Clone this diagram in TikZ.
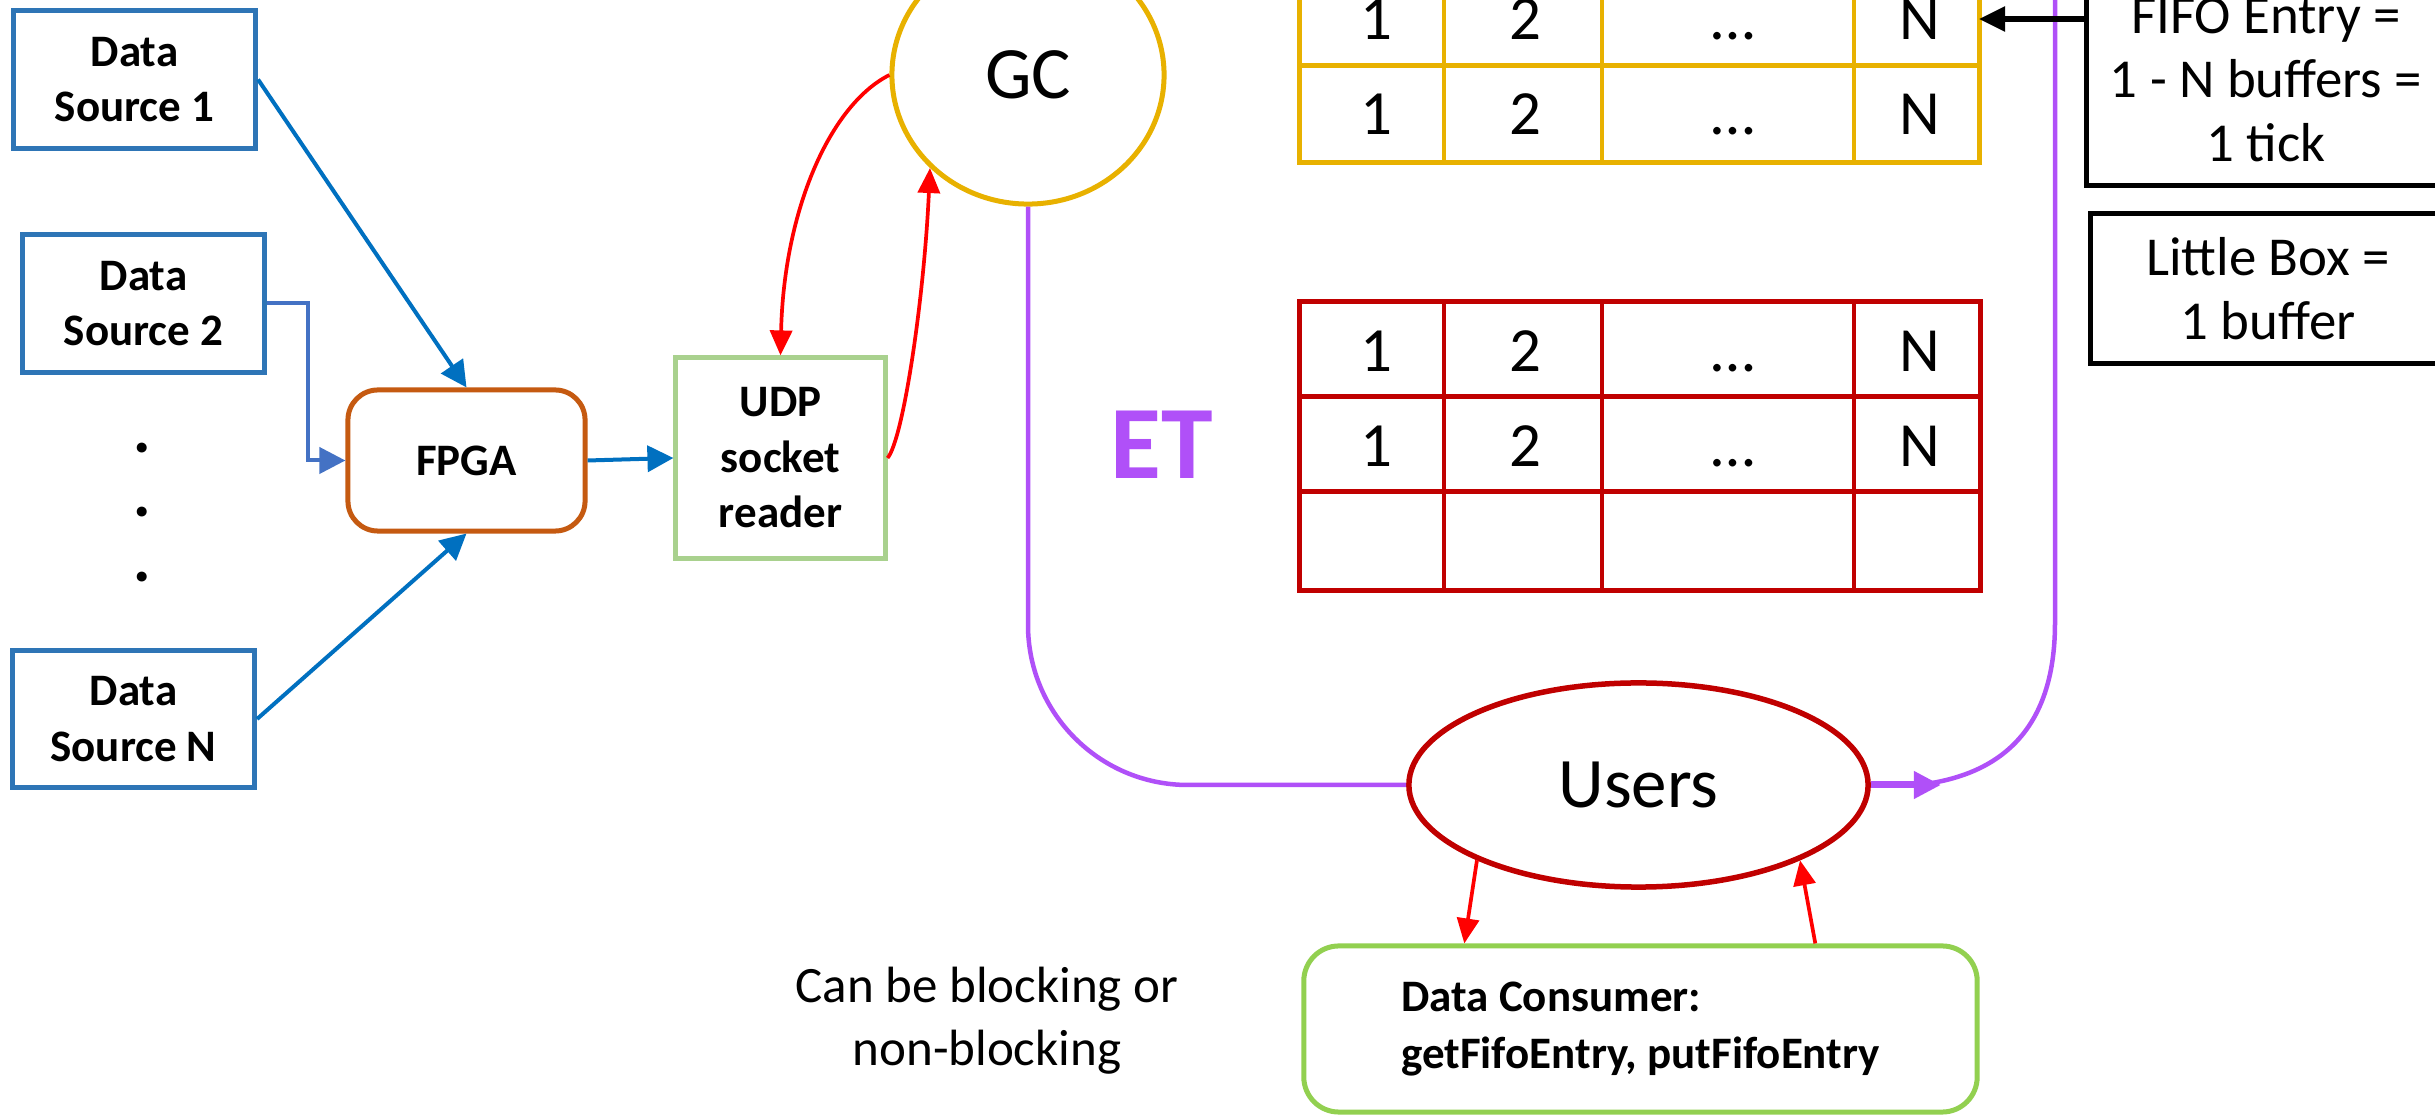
\documentclass[tikz,border=0pt]{standalone}
\usepackage{fontspec}
\setmainfont{Carlito}
\usetikzlibrary{shapes.geometric,arrows.meta,calc}
\definecolor{dsblue}{RGB}{46,117,182}
\definecolor{arrblue}{RGB}{0,112,192}
\definecolor{dsbluetwo}{RGB}{68,114,196}
\definecolor{fpgaorange}{RGB}{197,90,17}
\definecolor{udpgreen}{RGB}{169,209,142}
\definecolor{gcgold}{RGB}{232,177,0}
\definecolor{tabred}{RGB}{192,0,0}
\definecolor{arrred}{RGB}{255,0,0}
\definecolor{etpurple}{RGB}{176,80,248}
\definecolor{dcgreen}{RGB}{146,208,80}
\begin{document}
\begin{tikzpicture}[x=0.01cm,y=-0.01cm,
  lbl/.style={font=\fontsize{12.8pt}{15.8pt}\selectfont\bfseries, align=center, inner sep=0pt},
  srcbox/.style={lbl, draw=dsblue, line width=0.05cm, minimum width=2.42cm, minimum height=1.37cm},
  bluearr/.style={draw=arrblue, line width=0.04cm, -{Triangle[length=0.26cm,width=0.26cm]}},
  redarr/.style={draw=arrred, line width=0.037cm, -{Triangle[length=0.25cm,width=0.22cm]}},
  purp/.style={draw=etpurple, line width=0.045cm},
  cellnum/.style={font=\fontsize{17.9pt}{20pt}\selectfont, anchor=base, inner sep=0pt},
  notebox/.style={draw=black, line width=0.05cm, align=center, inner sep=0pt,
    font=\fontsize{15.6pt}{18.2pt}\selectfont},
  dotmark/.style={font=\fontsize{19pt}{20pt}\selectfont\bfseries\itshape, inner sep=0pt}
]
\path[use as bounding box] (0,0) rectangle (2435,1116);
\clip (0,0) rectangle (2435,1116);
\fill[white] (0,0) rectangle (2435,1116);

% data sources
\node[srcbox] (ds1) at (134.5,79.5) {Data\\Source 1};
\node[srcbox] (ds2) at (143.5,303.5) {Data\\Source 2};
\node[srcbox] (dsn) at (133.5,719) {Data\\Source N};
\node[dotmark] (dot1) at (143,448) {.};
\node[dotmark] (dot2) at (143,512) {.};
\node[dotmark] (dot3) at (143,577) {.};

% FPGA and UDP
\node[lbl, draw=fpgaorange, line width=0.05cm, rounded corners=0.3cm,
  minimum width=2.37cm, minimum height=1.41cm] (fpga) at (466.5,460.5) {FPGA};
\node[lbl, draw=udpgreen, line width=0.05cm,
  minimum width=2.09cm, minimum height=2.0cm] (udp) at (780.5,458) {UDP\\socket\\reader};

% GC
\node[ellipse, draw=gcgold, line width=0.05cm, minimum width=2.72cm, minimum height=2.58cm,
  inner sep=0pt, font=\fontsize{21pt}{24pt}\selectfont] (gc) at (1028,75) {GC};

% yellow table
\draw[gcgold, line width=0.05cm] (1299,-40) -- (1299,163) -- (1979,163) -- (1979,-40);
\draw[gcgold, line width=0.05cm] (1299,66) -- (1979,66);
\foreach \x in {1444,1602,1854} \draw[gcgold, line width=0.035cm] (\x,-40) -- (\x,163);
\foreach \b/\r in {39.5/1,134.4/2} {
  \node[cellnum] (ya\r) at (1376,\b) {1};
  \node[cellnum] (yb\r) at (1525,\b) {2};
  \node[cellnum] (yc\r) at (1733,\b) {…};
  \node[cellnum] (yd\r) at (1920,\b) {N};
}
\coordinate (yrow) at (1979,19);

% red table
\draw[tabred, line width=0.05cm] (1299,302) rectangle (1980,591);
\draw[tabred, line width=0.05cm] (1299,397) -- (1980,397);
\draw[tabred, line width=0.05cm] (1299,492) -- (1980,492);
\foreach \x in {1444,1602,1854} \draw[tabred, line width=0.04cm] (\x,302) -- (\x,591);
\foreach \b/\r in {371.7/1,466.6/2} {
  \node[cellnum] (ra\r) at (1376,\b) {1};
  \node[cellnum] (rb\r) at (1525,\b) {2};
  \node[cellnum] (rc\r) at (1733,\b) {…};
  \node[cellnum] (rd\r) at (1920,\b) {N};
}

% ET label
\node[anchor=base, inner sep=0pt, text=etpurple, font=\fontsize{29.6pt}{32pt}\selectfont\bfseries] (et) at (1162,479) {ET};

% note boxes
\node[notebox, minimum width=3.58cm, minimum height=2.1cm] (fifo) at (2266,80) {FIFO Entry =\\1 - N buffers =\\1 tick};
\node[notebox, minimum width=3.54cm, minimum height=1.49cm] (little) at (2268,288.5) {Little Box =\\1 buffer};

% Users and data consumer
\node[ellipse, draw=tabred, line width=0.055cm, minimum width=4.59cm, minimum height=2.04cm,
  inner sep=0pt, font=\fontsize{20.2pt}{24pt}\selectfont] (users) at (1638.5,785) {Users};
\node[draw=dcgreen, line width=0.05cm, rounded corners=0.35cm, minimum width=6.73cm, minimum height=1.66cm,
  align=left, inner sep=0pt, font=\fontsize{12.8pt}{16.2pt}\selectfont\bfseries] (dc) at (1640.5,1029)
  {Data Consumer:\\getFifoEntry, putFifoEntry};
\node[align=center, inner sep=0pt, font=\fontsize{14.5pt}{17.9pt}\selectfont] (block) at (987,1021)
  {Can be blocking or\\non-blocking};

% purple ET paths
\coordinate (ettop) at (2055,-20);
\coordinate (etjoin) at (1941,785);
\draw[purp, rounded corners=1.6cm] (gc.south) |- (users.west);
\draw[purp] (ettop) -- (2055,623) .. controls (2055,735) and (1995,772) .. (1932,783);
\draw[draw=etpurple, line width=0.07cm, -{Triangle[length=0.27cm,width=0.26cm]}] (users.east) -- (etjoin);

% blue arrows
\draw[bluearr] (ds1.east) -- (fpga.north);
\draw[bluearr, draw=dsbluetwo] (ds2.east) -- ++(41,0) |- (fpga.west);
\draw[bluearr] (dsn.east) -- (fpga.south);
\draw[bluearr] (fpga.east) -- (udp.west);

% red arrows
\draw[redarr] (gc.west) .. controls (830,105) and (784,210) .. (udp.north);
\draw[redarr] (udp.east) .. controls (903,440) and (924,300) .. (gc.south west);
\draw[redarr] (users.205) -- ($(dc.north west)+(163,0)$);
\draw[redarr] ($(dc.north west)+(514,0)$) -- (users.335);

% black arrow
\draw[black, line width=0.055cm, -{Triangle[length=0.26cm,width=0.24cm]}] (fifo.west |- yrow) -- (yrow);
\end{tikzpicture}
\end{document}
